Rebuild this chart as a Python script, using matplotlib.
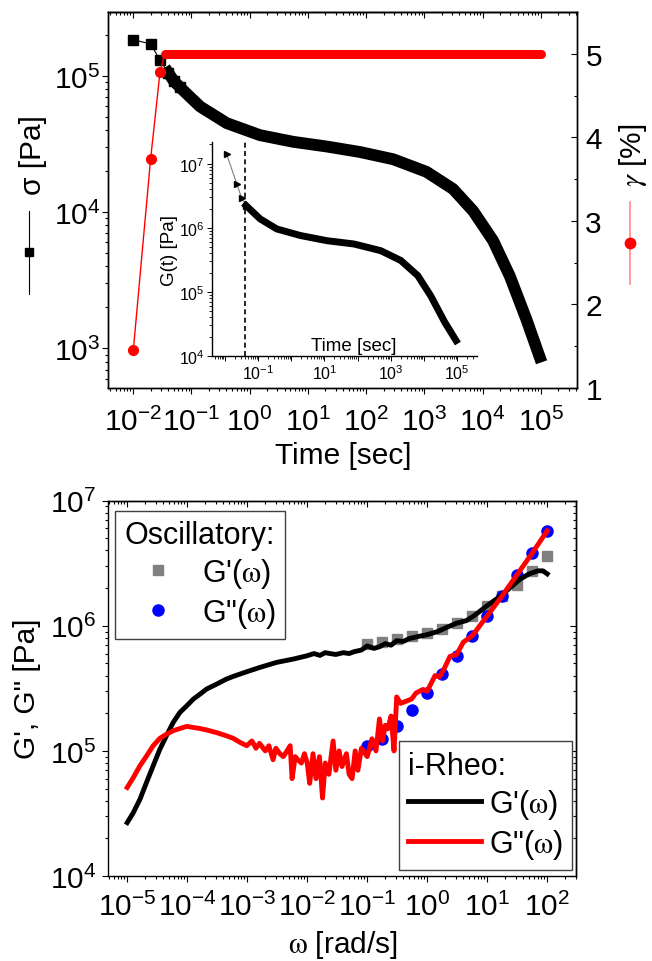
import numpy as np
import matplotlib
matplotlib.use("Agg")
import matplotlib.pyplot as plt
from matplotlib.lines import Line2D
from matplotlib.ticker import (LogLocator, LogFormatterMathtext, MultipleLocator,
                               NullFormatter, FuncFormatter)

plt.rcParams.update({
    "font.family": ["Liberation Sans", "DejaVu Sans"],
    "mathtext.fontset": "custom",
    "mathtext.rm": "Liberation Sans",
    "mathtext.it": "Liberation Sans:italic",
    "mathtext.bf": "Liberation Sans:bold",
    "font.size": 21.5,
    "axes.linewidth": 1.0,
})

# ---------------- data: stress relaxation (top panel) ----------------
t_sigma = [0.0100, 0.0200, 0.0290, 0.0400, 0.0500, 0.064, 0.141, 0.405, 1.51, 5.6,
           20.9, 78.0, 292.0, 1.09e3, 3.12e3, 6.9e3, 1.51e4, 2.93e4, 5.66e4, 9.5e4]
sigma = [1.85e5, 1.72e5, 1.31e5, 1.06e5, 9.2e4, 8.26e4, 5.98e4, 4.51e4, 3.68e4, 3.29e4,
         3.04e4, 2.77e4, 2.45e4, 1.98e4, 1.48e4, 1.02e4, 6.2e3, 3.4e3, 1.63e3, 870.0]

t_gamma = [0.0101, 0.0200, 0.0290, 0.035, 0.05, 1.0, 100.0, 1.0e4, 1.0e5]
gamma = [1.45, 3.74, 4.78, 5.0, 5.0, 5.0, 5.0, 5.0, 5.0]

# inset: relaxation modulus
t_G_start = [0.0113, 0.0227, 0.032, 0.0432]
G_start = [1.4e7, 4.9e6, 2.9e6, 2.23e6]
t_G = [0.0432, 0.115, 0.368, 1.87, 12.0, 78.0, 500.0, 2.0e3, 6.5e3, 1.6e4, 4.2e4, 9.3e4]
G_t = [2.23e6, 1.38e6, 9.6e5, 7.6e5, 6.3e5, 5.6e5, 4.4e5, 3.1e5, 1.8e5, 8.7e4, 3.4e4,
       1.74e4]
t_cut = 0.040

# ---------------- data: moduli (bottom panel) ----------------
w_osc = [0.1, 0.178, 0.316, 0.562, 1.0, 1.78, 3.16, 5.62, 10.0, 17.8, 31.6, 56.2, 100.0]
Gp_osc = [7.1e5, 7.4e5, 7.8e5, 8.3e5, 8.7e5, 9.5e5, 1.06e6, 1.2e6, 1.45e6, 1.74e6,
          2.1e6, 2.75e6, 3.6e6]
Gpp_osc = [1.1e5, 1.24e5, 1.58e5, 2.13e5, 2.9e5, 4.1e5, 5.75e5, 8.3e5, 1.2e6, 1.74e6,
           2.57e6, 3.8e6, 5.75e6]

w_gp = [1.0e-5, 1.26e-5, 1.63e-5, 2.1e-5, 2.71e-5, 3.5e-5, 4.5e-5, 5.85e-5, 7.55e-5,
        9.8e-5, 1.26e-4, 1.63e-4, 2.1e-4, 3.1e-4, 4.5e-4, 5.85e-4, 9.8e-4, 1.63e-3,
        3.1e-3, 5.85e-3, 9.8e-3, 1.3e-2, 1.63e-2, 2.0e-2, 2.4e-2, 3.0e-2, 4.0e-2,
        5.0e-2, 6.0e-2, 8.0e-2, 0.10, 0.13, 0.16, 0.20, 0.25, 0.31, 0.40, 0.50, 0.70,
        1.0, 1.5, 2.0, 3.1, 4.5, 6.0, 10.0, 17.0, 25.0, 35.0, 50.0, 70.0, 85.0, 100.0]
Gp_ir = [2.67e4, 3.2e4, 4.1e4, 5.6e4, 7.6e4, 1.03e5, 1.32e5, 1.69e5, 2.03e5,
         2.29e5, 2.59e5, 2.84e5, 3.12e5, 3.42e5, 3.75e5, 3.94e5, 4.29e5, 4.65e5,
         5.1e5, 5.42e5, 5.75e5, 6.0e5, 5.8e5, 6.1e5, 6.0e5, 5.9e5, 6.1e5,
         6.0e5, 6.2e5, 6.4e5, 6.9e5, 6.6e5, 6.8e5, 7.2e5, 7.0e5, 7.6e5, 7.5e5, 7.9e5, 8.2e5,
         8.5e5, 9.0e5, 9.6e5, 1.05e6, 1.1e6, 1.2e6, 1.45e6, 1.74e6, 2.05e6, 2.35e6, 2.6e6,
         2.75e6, 2.75e6, 2.6e6]

w_gpp = [1.0e-5, 1.26e-5, 1.63e-5, 2.1e-5, 2.71e-5, 3.5e-5, 4.5e-5, 5.85e-5, 7.55e-5,
         9.8e-5, 1.26e-4, 1.63e-4, 2.1e-4, 3.1e-4, 4.5e-4, 5.85e-4, 7.6e-4, 9.8e-4,
         1.2e-3, 1.4e-3, 1.6e-3, 2.0e-3, 2.3e-3, 2.7e-3,
         3.0e-3, 3.5e-3, 4.0e-3, 4.6e-3, 5.2e-3, 5.6e-3, 6.3e-3, 7.0e-3, 8.0e-3, 9.0e-3,
         1.0e-2, 1.1e-2, 1.25e-2, 1.4e-2, 1.6e-2, 1.8e-2, 2.0e-2, 2.3e-2, 2.7e-2, 3.0e-2,
         3.4e-2, 3.8e-2, 4.5e-2, 5.0e-2, 5.6e-2, 6.3e-2, 7.0e-2, 8.0e-2, 0.10, 0.12,
         0.14, 0.16, 0.18, 0.20, 0.22, 0.25, 0.28, 0.31, 0.36, 0.45,
         0.55, 0.65, 0.85, 1.0, 1.35, 1.6, 1.9, 2.4, 3.1, 4.0,
         5.6, 10.0, 17.8, 31.6, 56.0, 100.0]
Gpp_ir = [5.1e4, 6.1e4, 7.6e4, 9.1e4, 1.1e5, 1.26e5, 1.36e5, 1.45e5, 1.51e5,
          1.57e5, 1.54e5, 1.51e5, 1.47e5, 1.4e5, 1.32e5, 1.26e5, 1.17e5, 1.1e5,
          1.2e5, 1.05e5, 1.15e5, 1.0e5, 1.1e5, 8.5e4,
          1.05e5, 9.5e4, 9.0e4, 1.0e5, 1.1e5, 6.0e4, 9.0e4, 8.5e4, 8.0e4, 9.5e4,
          8.0e4, 5.5e4, 9.5e4, 6.0e4, 9.0e4, 4.2e4, 8.0e4, 6.5e4, 1.2e5, 7.0e4,
          1.0e5, 7.5e4, 9.5e4, 6.5e4, 6.0e4, 1.0e5, 7.0e4, 1.05e5, 9.0e4, 1.25e5,
          1.0e5, 1.8e5, 1.2e5, 1.6e5, 1.5e5, 1.9e5, 1.0e5, 2.7e5, 2.4e5, 2.5e5,
          2.6e5, 2.9e5, 3.1e5, 3.0e5, 4.0e5, 3.9e5, 4.5e5, 5.7e5, 5.9e5, 7.4e5,
          8.3e5, 1.2e6, 1.74e6, 2.57e6, 3.8e6, 5.75e6]

W, H = 652, 962


def px_box(left, top, right, bottom):
    return [left / W, 1 - bottom / H, (right - left) / W, (bottom - top) / H]


def log_ticks(axis):
    axis.set_major_locator(LogLocator(base=10, numticks=30))
    axis.set_minor_locator(LogLocator(base=10, subs=np.arange(2, 10), numticks=30))


def mirror_x(ax):
    sec = ax.secondary_xaxis("top")
    log_ticks(sec.xaxis)
    sec.xaxis.set_major_formatter(NullFormatter())
    sec.xaxis.set_minor_formatter(NullFormatter())
    sec.tick_params(which="major", direction="in", length=4.3, width=0.8)
    sec.tick_params(which="minor", direction="in", length=2.5, width=0.8)
    return sec


fig = plt.figure(figsize=(W / 100, H / 100), dpi=100)

# ---------------- top panel ----------------
ax1 = fig.add_axes(px_box(108, 13, 577, 389))
ax1.set_xscale("log")
ax1.set_yscale("log")
ax1.set_xlim(10 ** -2.43, 10 ** 5.62)
ax1.set_ylim(10 ** 2.71, 10 ** 5.47)
log_ticks(ax1.xaxis)
log_ticks(ax1.yaxis)
ax1.xaxis.set_major_formatter(LogFormatterMathtext())
ax1.yaxis.set_major_formatter(LogFormatterMathtext())
ax1.tick_params(which="major", direction="out", length=4.3, width=0.8)
ax1.tick_params(which="minor", direction="out", length=2.5, width=0.8)
ax1.tick_params(axis="y", pad=1)
ax1.tick_params(axis="x", pad=9)
mirror_x(ax1)

ax1.plot(t_sigma[:6], sigma[:6], color="k", lw=0.8, marker="s", ms=6.5, zorder=3)
ax1.plot(t_sigma[3:], sigma[3:], color="k", lw=8.5, solid_capstyle="projecting",
         solid_joinstyle="round", zorder=3)

ax2 = ax1.twinx()
ax2.set_ylim(1, 5.5)
ax2.yaxis.set_major_locator(MultipleLocator(1))
ax2.yaxis.set_minor_locator(MultipleLocator(0.5))
ax2.tick_params(which="major", direction="in", length=4.3, width=0.8, pad=6)
ax2.tick_params(which="minor", direction="in", length=2.5, width=0.8)
ax2.plot(t_gamma[:4], gamma[:4], color="red", lw=1.0, marker="o", ms=7,
         markevery=[0, 1, 2])
ax2.plot(t_gamma[3:], gamma[3:], color="red", lw=6.5, solid_capstyle="round")

fig.text(343 / W, 1 - 456 / H, "Time [sec]", ha="center", va="center")

# left label with symbol
fig.text(33 / W, 1 - 155 / H, "σ [Pa]", rotation=90, ha="center", va="center")
fig.add_artist(Line2D([29.3 / W] * 2, [1 - 212 / H, 1 - 295 / H], color="k", lw=0.8,
                      transform=fig.transFigure))
fig.add_artist(Line2D([29.3 / W], [1 - 253 / H], color="k", marker="s", ms=6,
                      transform=fig.transFigure))
# right label with symbol
fig.text(633 / W, 1 - 155 / H, r"$\gamma$ [%]", rotation=90, ha="center", va="center",
         math_fontfamily="stix")
fig.add_artist(Line2D([630 / W] * 2, [1 - 203 / H, 1 - 285 / H], color="#ff8080", lw=1.1,
                      transform=fig.transFigure))
fig.add_artist(Line2D([630 / W], [1 - 244 / H], color="red", marker="o", ms=7.5,
                      transform=fig.transFigure))

# ---------------- inset ----------------
axi = fig.add_axes(px_box(212, 143, 477, 357))
axi.patch.set_alpha(0)
axi.spines[["top", "right"]].set_visible(False)
axi.set_xscale("log")
axi.set_yscale("log")
axi.set_xlim(10 ** -2.39, 10 ** 5.6)
axi.set_ylim(1e4, 10 ** 7.34)
log_ticks(axi.xaxis)
log_ticks(axi.yaxis)
axi.yaxis.set_major_formatter(LogFormatterMathtext())


def odd_decades(x, pos):
    e = int(round(np.log10(x)))
    return r"$\mathdefault{10^{%d}}$" % e if e % 2 else ""


axi.xaxis.set_major_formatter(FuncFormatter(odd_decades))
axi.tick_params(labelsize=11.5, which="major", direction="out", length=3.5, width=0.7,
                pad=1.5)
axi.tick_params(which="minor", direction="out", length=2, width=0.6)
axi.axvline(t_cut, color="k", lw=1.2, ls=(0, (3, 2)))
axi.plot(t_G_start, G_start, color="#808080", lw=0.8, marker=">", ms=4.5,
         markerfacecolor="k", markeredgecolor="k")
axi.plot(t_G, G_t, color="k", lw=5, solid_capstyle="projecting", solid_joinstyle="round")
axi.set_ylabel("G(t) [Pa]", fontsize=13.5, labelpad=1)
axi.text(0.536, 0.01, "Time [sec]", transform=axi.transAxes, ha="center", va="bottom",
         fontsize=13.5)

# ---------------- bottom panel ----------------
ax3 = fig.add_axes(px_box(108, 501.7, 576, 877))
ax3.set_xscale("log")
ax3.set_yscale("log")
ax3.set_xlim(10 ** -5.32, 10 ** 2.48)
ax3.set_ylim(1e4, 1e7)
log_ticks(ax3.xaxis)
log_ticks(ax3.yaxis)
ax3.xaxis.set_major_formatter(LogFormatterMathtext())
ax3.yaxis.set_major_formatter(LogFormatterMathtext())
ax3.tick_params(which="major", direction="out", length=4.3, width=0.8)
ax3.tick_params(which="minor", direction="out", length=2.5, width=0.8)
ax3.tick_params(axis="y", pad=4)
ax3.tick_params(axis="x", pad=7)
mirror_x(ax3)
sec_y = ax3.secondary_yaxis("right")
log_ticks(sec_y.yaxis)
sec_y.yaxis.set_major_formatter(NullFormatter())
sec_y.yaxis.set_minor_formatter(NullFormatter())
sec_y.tick_params(which="major", direction="in", length=4.3, width=0.8)
sec_y.tick_params(which="minor", direction="in", length=2.5, width=0.8)

h_sq, = ax3.plot(w_osc, Gp_osc, ls="none", marker="s", ms=7, color="#808080",
                 label=r"G'($\mathrm{\omega}$)")
h_ci, = ax3.plot(w_osc, Gpp_osc, ls="none", marker="o", ms=8, color="#0000ff",
                 label=r'G"($\mathrm{\omega}$)')
h_gp, = ax3.plot(w_gp, Gp_ir, color="k", lw=3.5, label=r"G'($\mathrm{\omega}$)")
h_gpp, = ax3.plot(w_gpp, Gpp_ir, color="red", lw=3.5, label=r'G"($\mathrm{\omega}$)')

fig.text(27 / W, 1 - 689 / H, "G', G\" [Pa]", rotation=90, ha="center", va="center")
fig.text(343 / W, 1 - 945 / H, r"$\mathrm{\omega}$ [rad/s]", ha="center", va="center",
         math_fontfamily="stix")

leg1 = ax3.legend(handles=[h_sq, h_ci], title="Oscillatory:", loc="upper left",
                  bbox_to_anchor=(7 / 468, 1 - 10 / 375.3), borderaxespad=0,
                  fontsize=22, title_fontsize=22, alignment="left", fancybox=False,
                  edgecolor="#404040", framealpha=1, borderpad=0.3, handlelength=2.2,
                  handletextpad=0.35, labelspacing=0.2, numpoints=1)
leg1.get_frame().set_linewidth(1.0)
for t in leg1.get_texts():
    t.set_math_fontfamily("stix")
ax3.add_artist(leg1)

leg2 = ax3.legend(handles=[h_gp, h_gpp], title="i-Rheo:", loc="lower right",
                  bbox_to_anchor=(1 - 4 / 468, 6 / 375.3), borderaxespad=0,
                  fontsize=22, title_fontsize=22, alignment="left", fancybox=False,
                  edgecolor="#404040", framealpha=1, borderpad=0.3, handlelength=2.4,
                  handletextpad=0.25, labelspacing=0.2)
leg2.get_frame().set_linewidth(1.0)
for t in leg2.get_texts():
    t.set_math_fontfamily("stix")

fig.savefig("out.png", dpi=100)
